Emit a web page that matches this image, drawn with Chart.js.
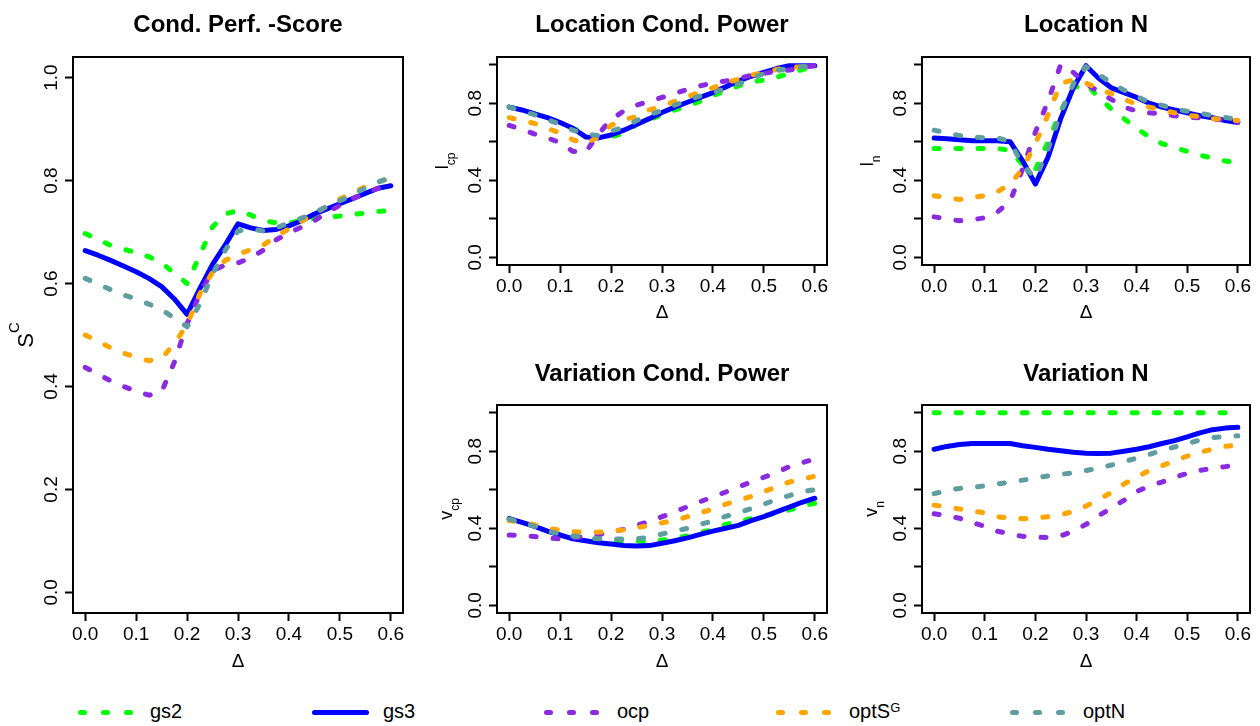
<!DOCTYPE html>
<html>
<head>
<meta charset="utf-8">
<script src="https://cdn.jsdelivr.net/npm/chart.js@4.4.1/dist/chart.umd.min.js"></script>
<style>
  body { margin: 0; background: #fff; width: 1260px; height: 726px; position: relative; overflow: hidden;
         font-family: "Liberation Sans", Arial, sans-serif; color: #000; }
  canvas { position: absolute; }
  .leg-sample { position: absolute; top: 710px; height: 5px; }
  .leg-dot { position: absolute; top: 0; width: 9px; height: 5px; border-radius: 3px; }
  .leg-text { position: absolute; top: 701px; font-size: 20px; line-height: 20px; white-space: nowrap; }
  .leg-text sup { font-size: 13px; position: relative; top: -3px; vertical-align: top; }
</style>
</head>
<body>
<canvas id="pScore" width="420" height="680" style="left:0;top:0"></canvas>
<canvas id="pLcp" width="420" height="340" style="left:420px;top:0"></canvas>
<canvas id="pLn" width="420" height="340" style="left:840px;top:0"></canvas>
<canvas id="pVcp" width="420" height="340" style="left:420px;top:340px"></canvas>
<canvas id="pVn" width="420" height="340" style="left:840px;top:340px"></canvas>
<div id="legend"></div>

<script>
// x values (Delta) shared by all curves
const delta = [0, 0.025, 0.05, 0.075, 0.1, 0.125, 0.15, 0.175, 0.2, 0.225, 0.25, 0.275, 0.3,
               0.325, 0.35, 0.375, 0.4, 0.425, 0.45, 0.475, 0.5, 0.525, 0.55, 0.575, 0.6];

const seriesNames = ["gs2", "gs3", "ocp", "optS", "optN"];

const xTicks = [0, 0.1, 0.2, 0.3, 0.4, 0.5, 0.6];
const xTickLabels = ["0.0", "0.1", "0.2", "0.3", "0.4", "0.5", "0.6"];
const yTicks = [0, 0.2, 0.4, 0.6, 0.8, 1.0];
const yTickLabelsFull = ["0.0", "0.2", "0.4", "0.6", "0.8", "1.0"];
const yTickLabelsSparse = ["0.0", "", "0.4", "", "0.8", ""];

// Cond. Perf. -Score
const scoreGs2  = [0.697, 0.686, 0.674, 0.667, 0.660, 0.652, 0.640, 0.620, 0.600, 0.655, 0.710, 0.735, 0.742,
                   0.733, 0.722, 0.718, 0.718, 0.722, 0.726, 0.729, 0.731, 0.734, 0.737, 0.740, 0.742];
const scoreGs3  = [0.664, 0.655, 0.645, 0.634, 0.623, 0.610, 0.594, 0.570, 0.540, 0.590, 0.637, 0.675, 0.716,
                   0.708, 0.703, 0.705, 0.712, 0.722, 0.735, 0.745, 0.755, 0.765, 0.775, 0.785, 0.790];
const scoreOcp  = [0.437, 0.424, 0.411, 0.400, 0.391, 0.383, 0.390, 0.447, 0.522, 0.580, 0.625, 0.636, 0.640,
                   0.650, 0.665, 0.685, 0.698, 0.710, 0.722, 0.738, 0.752, 0.765, 0.775, 0.785, 0.790];
const scoreOptS = [0.500, 0.488, 0.475, 0.465, 0.457, 0.450, 0.455, 0.483, 0.520, 0.580, 0.622, 0.645, 0.656,
                   0.666, 0.675, 0.692, 0.706, 0.721, 0.736, 0.750, 0.764, 0.776, 0.788, 0.797, 0.805];
const scoreOptN = [0.610, 0.599, 0.588, 0.578, 0.570, 0.560, 0.549, 0.533, 0.516, 0.560, 0.618, 0.665, 0.702,
                   0.706, 0.702, 0.708, 0.718, 0.727, 0.738, 0.750, 0.761, 0.772, 0.786, 0.797, 0.806];

// Location Cond. Power
const lcpGs2  = [0.780, 0.765, 0.745, 0.720, 0.700, 0.670, 0.640, 0.625, 0.625, 0.645, 0.690, 0.715, 0.740,
                 0.765, 0.785, 0.810, 0.840, 0.865, 0.890, 0.910, 0.920, 0.935, 0.955, 0.975, 0.990];
const lcpGs3  = [0.780, 0.765, 0.745, 0.725, 0.700, 0.670, 0.625, 0.620, 0.635, 0.660, 0.690, 0.720, 0.752,
                 0.780, 0.805, 0.830, 0.855, 0.885, 0.915, 0.940, 0.960, 0.980, 0.995, 0.995, 0.995];
const lcpOcp  = [0.685, 0.665, 0.640, 0.620, 0.595, 0.550, 0.545, 0.640, 0.715, 0.760, 0.790, 0.810, 0.830,
                 0.850, 0.872, 0.890, 0.905, 0.915, 0.928, 0.945, 0.955, 0.965, 0.972, 0.985, 0.995];
const lcpOptS = [0.725, 0.710, 0.695, 0.670, 0.645, 0.610, 0.590, 0.625, 0.685, 0.715, 0.730, 0.765, 0.785,
                 0.810, 0.835, 0.858, 0.880, 0.905, 0.925, 0.945, 0.960, 0.975, 0.985, 0.990, 1.000];
const lcpOptN = [0.780, 0.760, 0.740, 0.715, 0.690, 0.660, 0.640, 0.632, 0.655, 0.675, 0.710, 0.740, 0.763,
                 0.790, 0.815, 0.838, 0.855, 0.875, 0.900, 0.925, 0.955, 0.970, 0.980, 0.990, 1.000];

// Location N
const lnGs2  = [0.565, 0.565, 0.565, 0.565, 0.565, 0.565, 0.555, 0.480, 0.455, 0.600, 0.760, 0.880, 0.900,
                0.830, 0.770, 0.720, 0.670, 0.625, 0.590, 0.570, 0.550, 0.530, 0.515, 0.500, 0.490];
const lnGs3  = [0.620, 0.615, 0.610, 0.605, 0.605, 0.605, 0.600, 0.500, 0.380, 0.520, 0.720, 0.880, 0.995,
                0.930, 0.880, 0.855, 0.830, 0.800, 0.780, 0.765, 0.750, 0.735, 0.725, 0.710, 0.700];
const lnOcp  = [0.210, 0.200, 0.190, 0.195, 0.205, 0.235, 0.290, 0.460, 0.650, 0.810, 1.000, 0.960, 0.900,
                0.860, 0.820, 0.780, 0.760, 0.750, 0.745, 0.735, 0.728, 0.724, 0.720, 0.710, 0.700];
const lnOptS = [0.320, 0.310, 0.300, 0.310, 0.320, 0.340, 0.380, 0.460, 0.590, 0.740, 0.905, 0.920, 0.905,
                0.875, 0.850, 0.820, 0.795, 0.780, 0.765, 0.750, 0.737, 0.730, 0.720, 0.715, 0.710];
const lnOptN = [0.660, 0.645, 0.632, 0.625, 0.620, 0.620, 0.600, 0.480, 0.410, 0.560, 0.750, 0.900, 0.990,
                0.950, 0.905, 0.868, 0.835, 0.805, 0.789, 0.770, 0.758, 0.748, 0.735, 0.726, 0.715];

// Variation Cond. Power
const vcpGs2  = [0.450, 0.430, 0.410, 0.385, 0.370, 0.355, 0.345, 0.340, 0.335, 0.332, 0.332, 0.333, 0.338,
                 0.348, 0.360, 0.378, 0.392, 0.420, 0.435, 0.450, 0.465, 0.478, 0.495, 0.515, 0.530];
const vcpGs3  = [0.450, 0.430, 0.410, 0.385, 0.365, 0.345, 0.335, 0.325, 0.318, 0.310, 0.308, 0.310, 0.322,
                 0.335, 0.350, 0.368, 0.385, 0.400, 0.415, 0.440, 0.460, 0.485, 0.510, 0.535, 0.556];
const vcpOcp  = [0.365, 0.362, 0.357, 0.350, 0.345, 0.350, 0.358, 0.366, 0.380, 0.395, 0.415, 0.435, 0.460,
                 0.485, 0.512, 0.538, 0.563, 0.588, 0.615, 0.640, 0.665, 0.690, 0.720, 0.740, 0.760];
const vcpOptS = [0.440, 0.430, 0.418, 0.400, 0.390, 0.382, 0.378, 0.380, 0.385, 0.392, 0.403, 0.415, 0.428,
                 0.440, 0.460, 0.480, 0.500, 0.525, 0.545, 0.565, 0.590, 0.615, 0.640, 0.655, 0.670];
const vcpOptN = [0.447, 0.430, 0.410, 0.385, 0.370, 0.360, 0.352, 0.345, 0.344, 0.344, 0.346, 0.352, 0.370,
                 0.385, 0.400, 0.420, 0.438, 0.462, 0.480, 0.502, 0.525, 0.550, 0.570, 0.590, 0.600];

// Variation N
const vnGs2  = [1.000, 1.000, 1.000, 1.000, 1.000, 1.000, 1.000, 1.000, 1.000, 1.000, 1.000, 1.000, 1.000,
                1.000, 1.000, 1.000, 1.000, 1.000, 1.000, 1.000, 1.000, 1.000, 1.000, 1.000, 1.000];
const vnGs3  = [0.810, 0.825, 0.835, 0.840, 0.840, 0.840, 0.840, 0.828, 0.820, 0.810, 0.802, 0.795, 0.790,
                0.788, 0.790, 0.800, 0.810, 0.823, 0.840, 0.855, 0.874, 0.895, 0.912, 0.920, 0.924];
const vnOcp  = [0.475, 0.465, 0.452, 0.430, 0.410, 0.385, 0.370, 0.358, 0.354, 0.352, 0.360, 0.385, 0.420,
                0.465, 0.505, 0.545, 0.590, 0.620, 0.640, 0.665, 0.685, 0.700, 0.712, 0.720, 0.730];
const vnOptS = [0.520, 0.510, 0.500, 0.490, 0.480, 0.460, 0.452, 0.450, 0.452, 0.460, 0.470, 0.487, 0.515,
                0.550, 0.585, 0.630, 0.665, 0.700, 0.725, 0.750, 0.775, 0.795, 0.810, 0.825, 0.833];
const vnOptN = [0.580, 0.595, 0.607, 0.613, 0.620, 0.630, 0.640, 0.650, 0.660, 0.672, 0.680, 0.688, 0.700,
                0.712, 0.728, 0.745, 0.765, 0.783, 0.805, 0.822, 0.840, 0.858, 0.870, 0.877, 0.880];

// line look per series
const lineStyles = [
  { color: "#00ff00", width: 5, dash: [5, 17] },
  { color: "#0000ff", width: 5, dash: [] },
  { color: "#8a2be2", width: 5, dash: [5, 17] },
  { color: "#ffa500", width: 5, dash: [5, 17] },
  { color: "#5f9ea0", width: 5, dash: [5, 17] }
];

Chart.defaults.font.family = "'Liberation Sans', Arial, sans-serif";
Chart.defaults.color = "#000";

function makePanel(id, series, opts) {
  const canvas = document.getElementById(id);
  const W = canvas.width, H = canvas.height;
  const box = opts.box;

  const panelDecor = {
    id: "panelDecor",
    afterDraw(chart) {
      const ctx = chart.ctx;
      const a = chart.chartArea;
      ctx.save();
      // plot frame
      ctx.strokeStyle = "#000";
      ctx.lineWidth = 2;
      ctx.strokeRect(a.left, a.top, a.right - a.left, a.bottom - a.top);
      // main title
      ctx.fillStyle = "#000";
      ctx.font = "bold 24px 'Liberation Sans', Arial, sans-serif";
      ctx.textAlign = "center";
      ctx.textBaseline = "alphabetic";
      ctx.fillText(opts.title, (a.left + a.right) / 2, opts.titleY);
      // y axis label with sub/superscript
      const cy = (a.top + a.bottom) / 2;
      const bx = a.left - opts.ylabOffset;
      const mainFont = opts.ylabSize + "px 'Liberation Sans', Arial, sans-serif";
      const smallFont = Math.round(opts.ylabSize * 0.68) + "px 'Liberation Sans', Arial, sans-serif";
      ctx.font = mainFont;
      const mw = ctx.measureText(opts.ylab).width;
      ctx.font = smallFont;
      const sw = ctx.measureText(opts.ylabSmall).width;
      ctx.translate(bx, cy);
      ctx.rotate(-Math.PI / 2);
      ctx.textAlign = "left";
      const x0 = -(mw + sw) / 2;
      ctx.font = mainFont;
      ctx.fillText(opts.ylab, x0, 0);
      ctx.font = smallFont;
      const shift = opts.ylabSup ? -opts.ylabSize * 0.62 : opts.ylabSize * 0.38;
      ctx.fillText(opts.ylabSmall, x0 + mw, shift);
      ctx.restore();
    }
  };

  return new Chart(canvas, {
    type: "line",
    data: {
      datasets: series.map((vals, i) => ({
        label: seriesNames[i],
        data: delta.map((x, j) => ({ x: x, y: vals[j] })),
        borderColor: lineStyles[i].color,
        borderWidth: lineStyles[i].width,
        borderDash: lineStyles[i].dash,
        borderCapStyle: "round",
        borderJoinStyle: "round",
        pointRadius: 0,
        tension: 0,
        fill: false,
        order: series.length - i
      }))
    },
    options: {
      responsive: false,
      animation: false,
      devicePixelRatio: 1,
      events: [],
      layout: { padding: { left: 0, top: box.top, right: W - box.right, bottom: 0 } },
      plugins: { legend: { display: false }, tooltip: { enabled: false } },
      scales: {
        x: {
          type: "linear",
          min: -0.024,
          max: 0.624,
          afterBuildTicks: axis => { axis.ticks = xTicks.map(v => ({ value: v })); },
          afterFit: axis => { axis.height = H - box.bottom; },
          border: { display: false },
          grid: { drawOnChartArea: false, drawTicks: true, tickLength: 8, tickWidth: 2, tickColor: "#000" },
          ticks: { autoSkip: false, maxRotation: 0, padding: 2, font: { size: 19 },
                   callback: (v, i) => xTickLabels[i] },
          title: { display: true, text: "Δ", font: { size: 19 }, padding: { top: 0, bottom: opts.xlabPad } }
        },
        y: {
          type: "linear",
          min: -0.04,
          max: 1.04,
          afterBuildTicks: axis => { axis.ticks = yTicks.map(v => ({ value: v })); },
          afterFit: axis => { axis.width = box.left; },
          border: { display: false },
          grid: { drawOnChartArea: false, drawTicks: true, tickLength: 8, tickWidth: 2, tickColor: "#000" },
          ticks: { autoSkip: false, minRotation: 90, maxRotation: 90, crossAlign: "center", padding: 0,
                   font: { size: 19 }, callback: (v, i) => opts.yLabels[i] }
        }
      }
    },
    plugins: [panelDecor]
  });
}

makePanel("pScore", [scoreGs2, scoreGs3, scoreOcp, scoreOptS, scoreOptN], {
  box: { left: 73, top: 57, right: 403, bottom: 613 },
  title: "Cond. Perf. -Score", titleY: 32, xlabPad: 7,
  ylab: "S", ylabSmall: "C", ylabSup: true, ylabSize: 22, ylabOffset: 40,
  yLabels: yTickLabelsFull
});
makePanel("pLcp", [lcpGs2, lcpGs3, lcpOcp, lcpOptS, lcpOptN], {
  box: { left: 77, top: 57, right: 407, bottom: 265 },
  title: "Location Cond. Power", titleY: 32, xlabPad: 16,
  ylab: "l", ylabSmall: "cp", ylabSup: false, ylabSize: 18, ylabOffset: 49,
  yLabels: yTickLabelsSparse
});
makePanel("pLn", [lnGs2, lnGs3, lnOcp, lnOptS, lnOptN], {
  box: { left: 82, top: 57, right: 410, bottom: 265 },
  title: "Location N", titleY: 32, xlabPad: 16,
  ylab: "l", ylabSmall: "n", ylabSup: false, ylabSize: 18, ylabOffset: 49,
  yLabels: yTickLabelsSparse
});
makePanel("pVcp", [vcpGs2, vcpGs3, vcpOcp, vcpOptS, vcpOptN], {
  box: { left: 77, top: 65, right: 407, bottom: 273 },
  title: "Variation Cond. Power", titleY: 41, xlabPad: 7,
  ylab: "v", ylabSmall: "cp", ylabSup: false, ylabSize: 18, ylabOffset: 45,
  yLabels: yTickLabelsSparse
});
makePanel("pVn", [vnGs2, vnGs3, vnOcp, vnOptS, vnOptN], {
  box: { left: 82, top: 65, right: 410, bottom: 273 },
  title: "Variation N", titleY: 41, xlabPad: 7,
  ylab: "v", ylabSmall: "n", ylabSup: false, ylabSize: 18, ylabOffset: 45,
  yLabels: yTickLabelsSparse
});

// bottom legend
const legendSlots = [
  { sample: 78, text: 150 },
  { sample: 312, text: 383 },
  { sample: 544, text: 617 },
  { sample: 776, text: 849 },
  { sample: 1010, text: 1083 }
];
const legend = document.getElementById("legend");
seriesNames.forEach((name, i) => {
  const st = lineStyles[i];
  const slot = legendSlots[i];
  const sample = document.createElement("div");
  sample.className = "leg-sample";
  sample.style.left = slot.sample + "px";
  sample.style.width = "57px";
  if (st.dash.length === 0) {
    sample.style.background = st.color;
    sample.style.borderRadius = "3px";
  } else {
    [0, 23, 46].forEach(off => {
      const dot = document.createElement("div");
      dot.className = "leg-dot";
      dot.style.left = off + "px";
      dot.style.background = st.color;
      sample.appendChild(dot);
    });
  }
  legend.appendChild(sample);
  const label = document.createElement("div");
  label.className = "leg-text";
  label.style.left = slot.text + "px";
  if (name === "optS") {
    label.innerHTML = "optS<sup>G</sup>";
  } else {
    label.textContent = name;
  }
  legend.appendChild(label);
});
</script>
</body>
</html>
